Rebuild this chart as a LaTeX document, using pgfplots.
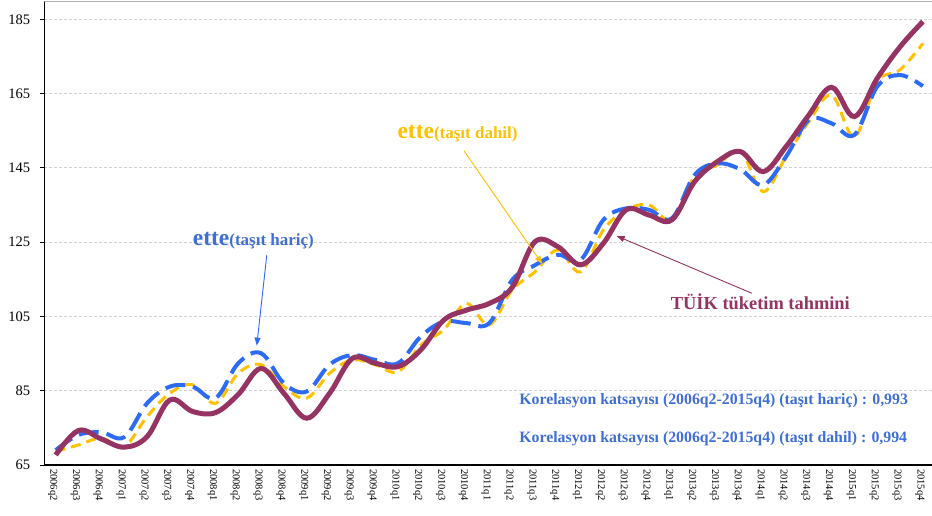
\documentclass[border=0pt]{standalone}
\usepackage{fontspec}
\setmainfont{Liberation Serif}
\usepackage{pgfplots}
\pgfplotsset{compat=1.18}
\usetikzlibrary{arrows.meta}
\definecolor{tuik}{HTML}{953462}
\definecolor{hblue}{HTML}{2E6BF5}
\definecolor{tblue}{HTML}{3E6FD6}
\definecolor{dyel}{HTML}{FFC000}
\begin{document}
\begin{tikzpicture}
\begin{axis}[
  at={(0,0)}, anchor=south west,
  scale only axis, width=887.7pt, height=463.5pt,
  xmin=-0.5, xmax=38.4, ymin=65, ymax=189.8,
  axis x line*=bottom, axis y line*=left,
  axis line style={-, black, line width=1.1pt},
  /pgf/number format/assume math mode=true,
  xtick={0,...,38},
  xticklabels={2006q2,2006q3,2006q4,2007q1,2007q2,2007q3,2007q4,2008q1,2008q2,2008q3,2008q4,2009q1,2009q2,2009q3,2009q4,2010q1,2010q2,2010q3,2010q4,2011q1,2011q2,2011q3,2011q4,2012q1,2012q2,2012q3,2012q4,2013q1,2013q2,2013q3,2013q4,2014q1,2014q2,2014q3,2014q4,2015q1,2015q2,2015q3,2015q4},
  minor xtick={-0.5,0.5,...,38.5},
  xtick style={draw=none},
  minor x tick style={black, line width=0.8pt},
  minor tick length=4pt,
  ytick={65,85,...,185},
  ytick style={black, line width=0.8pt},
  major tick length=4pt,
  tick align=outside,
  xticklabel style={rotate=-90, anchor=west, font=\fontsize{10.5}{12}\selectfont, inner sep=0pt, yshift=-3pt},
  yticklabel style={font=\fontsize{14.5}{16}\selectfont, inner sep=0pt, xshift=-10pt},
  ymajorgrids,
  major grid style={densely dashed, gray!35, line width=0.8pt},
  every axis plot/.append style={smooth, tension=0.6},
]
\addplot[dyel, line width=3pt, dash pattern=on 10pt off 6pt] coordinates {
(0,68.6)(1,70.4)(2,72.2)(3,70.0)(4,78.0)(5,84.3)(6,86.6)(7,81.6)(8,89.7)(9,92.0)
(10,86.1)(11,83.0)(12,89.7)(13,93.3)(14,92.0)(15,90.1)(16,97.3)(17,101.4)(18,108.5)(19,102.7)
(20,112.1)(21,117.0)(22,122.9)(23,117.0)(24,128.3)(25,133.7)(26,135.0)(27,131.0)(28,142.7)(29,145.8)
(30,149.5)(31,138.6)(32,148.0)(33,157.4)(34,164.6)(35,153.4)(36,168.2)(37,171.4)(38,178.5)};
\addplot[hblue, line width=4pt, dash pattern=on 20pt off 8pt] coordinates {
(0,69.0)(1,73.1)(2,73.8)(3,72.5)(4,81.6)(5,86.1)(6,86.1)(7,83.0)(8,92.4)(9,95.1)
(10,87.0)(11,84.8)(12,92.0)(13,94.6)(14,93.3)(15,92.4)(16,99.6)(17,103.6)(18,103.2)(19,103.2)
(20,114.8)(21,118.8)(22,121.6)(23,120.2)(24,131.0)(25,134.1)(26,133.7)(27,131.4)(28,143.1)(29,146.2)
(30,144.6)(31,140.4)(32,148.0)(33,157.9)(34,157.0)(35,153.9)(36,166.9)(37,170.0)(38,167.0)};
\addplot[tuik, line width=5pt] coordinates {
(0,67.7)(1,74.3)(2,72.0)(3,69.8)(4,72.6)(5,82.5)(6,79.4)(7,79.1)(8,84.0)(9,91.0)
(10,84.3)(11,77.6)(12,84.3)(13,93.7)(14,92.4)(15,91.5)(16,96.0)(17,104.0)(18,106.7)(19,108.5)
(20,112.8)(21,125.1)(22,123.8)(23,118.9)(24,124.7)(25,133.7)(26,132.3)(27,131.0)(28,141.3)(29,146.7)
(30,149.4)(31,144.0)(32,150.7)(33,159.2)(34,166.7)(35,158.8)(36,169.1)(37,177.6)(38,184.4)};
\draw[gray!60, line width=1pt] (rel axis cs:0,1) -- (rel axis cs:1,1);
% annotations
\node[anchor=base west, inner sep=0pt, text=tblue, font=\bfseries] at (axis cs:6.0,124.06)
  {{\fontsize{23.5}{26}\selectfont ette}{\fontsize{17}{19}\selectfont(taşıt hariç)}};
\draw[hblue, line width=0.9pt, -{Triangle[length=8pt,width=6pt]}] (axis cs:9.25,121.55) -- (axis cs:8.81,97.14);
\node[anchor=base west, inner sep=0pt, text=dyel, font=\bfseries] at (axis cs:14.97,152.97)
  {{\fontsize{23.5}{26}\selectfont ette}{\fontsize{17}{19}\selectfont(taşıt dahil)}};
\draw[dyel, line width=0.9pt, -{Triangle[length=8pt,width=6pt]}] (axis cs:17.89,149.63) -- (axis cs:21.32,119.13);
\node[anchor=base west, inner sep=0pt, text=tuik, font=\bfseries\fontsize{18.4}{20}\selectfont] at (axis cs:26.95,106.75)
  {TÜİK tüketim tahmini};
\draw[tuik, line width=0.9pt, -{Triangle[length=8pt,width=6pt]}] (axis cs:30.5,111.25) -- (axis cs:24.58,126.67);
\node[anchor=base west, inner sep=0pt, text=tblue, font=\bfseries\fontsize{15.8}{18}\selectfont] at (axis cs:20.31,81.2)
  {Korelasyon katsayısı (2006q2-2015q4) (taşıt hariç) : 0,993};
\node[anchor=base west, inner sep=0pt, text=tblue, font=\bfseries\fontsize{15.8}{18}\selectfont] at (axis cs:20.31,71.03)
  {Korelasyon katsayısı (2006q2-2015q4) (taşıt dahil) : 0,994};
\end{axis}
\pgfresetboundingbox
\path[use as bounding box] (-44.3pt,-51pt) rectangle (887.7pt,465pt);
\end{tikzpicture}
\end{document}
